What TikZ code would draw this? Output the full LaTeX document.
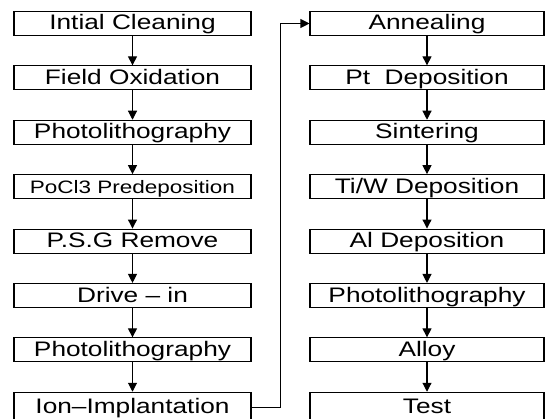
\documentclass[tikz,border=0pt]{standalone}
\usepackage{fontspec}
\setmainfont{Liberation Sans}[FakeStretch=1.25]
\usetikzlibrary{positioning,arrows.meta}

\tikzset{
	stage/.style={draw, line width=1.1pt, minimum width=237pt, minimum height=24pt, inner sep=0pt,
		text height=17pt, text depth=4pt, font=\fontsize{21}{24}\selectfont},
	laststage/.style={stage, minimum height=30pt, text height=19pt, text depth=7pt},
	flow/.style={-{Triangle[length=9pt,width=9pt]}, line width=1.1pt}
}

\begin{document}
\begin{tikzpicture}[node distance=29.3pt]
		\useasboundingbox (0,0) rectangle (545pt,-419pt);
		
		% left column
		\node[stage] (clean) at (132.5pt,-23.5pt) {Intial Cleaning};
		\node[stage, below=of clean] (oxid) {Field Oxidation};
		\node[stage, below=of oxid] (photoA) {Photolithography};
		\node[stage, below=of photoA, font=\fontsize{18}{20}\selectfont] (predep) {PoCl3 Predeposition};
		\node[stage, below=of predep] (psg) {P.S.G Remove};
		\node[stage, below=of psg] (drive) {Drive -- in};
		\node[stage, below=of drive] (photoB) {Photolithography};
		\node[laststage, below=of photoB] (implant) {Ion--Implantation};
		
		% right column
		\node[stage, minimum width=234pt] (anneal) at (427pt,-23.5pt) {Annealing};
		\node[stage, minimum width=234pt, below=of anneal] (ptdep) {Pt~ Deposition};
		\node[stage, minimum width=234pt, below=of ptdep] (sinter) {Sintering};
		\node[stage, minimum width=234pt, below=of sinter] (tiw) {Ti/W Deposition};
		\node[stage, minimum width=234pt, below=of tiw] (aldep) {Al Deposition};
		\node[stage, minimum width=234pt, below=of aldep] (photoC) {Photolithography};
		\node[stage, minimum width=234pt, below=of photoC] (alloy) {Alloy};
		\node[laststage, minimum width=234pt, below=of alloy] (test) {Test};
		
		\draw[flow] (clean) -- (oxid);
		\draw[flow] (oxid) -- (photoA);
		\draw[flow] (photoA) -- (predep);
		\draw[flow] (predep) -- (psg);
		\draw[flow] (psg) -- (drive);
		\draw[flow] (drive) -- (photoB);
		\draw[flow] (photoB) -- (implant);
		
		\draw[flow] (implant.east) -- ++(29pt,0) |- (anneal.west);
		
		\draw[flow] (anneal) -- (ptdep);
		\draw[flow] (ptdep) -- (sinter);
		\draw[flow] (sinter) -- (tiw);
		\draw[flow] (tiw) -- (aldep);
		\draw[flow] (aldep) -- (photoC);
		\draw[flow] (photoC) -- (alloy);
		\draw[flow] (alloy) -- (test);
	\end{tikzpicture}
\end{document}
